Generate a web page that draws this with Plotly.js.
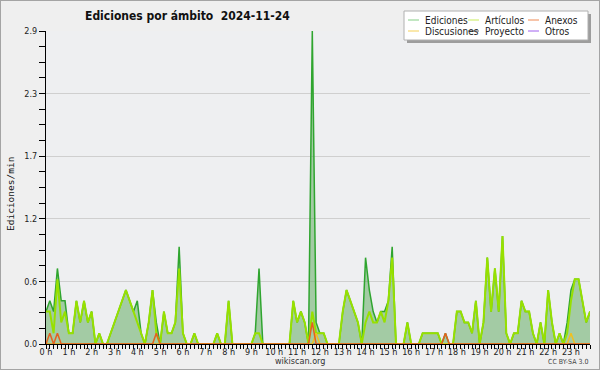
<!DOCTYPE html>
<html><head><meta charset="utf-8">
<script src="https://cdn.plot.ly/plotly-3.0.1.min.js"></script>
<style>
html,body{margin:0;padding:0;background:#efefef;}
#chart{width:600px;height:370px;}
#frame{position:absolute;left:0;top:0;width:600px;height:370px;box-sizing:border-box;border:1px solid #a4a4a4;pointer-events:none;}
</style></head><body>
<div id="chart"></div><div id="frame"></div>
<script>
// ---- data (edits per minute, 10-minute bins, 2024-11-24) ----
const hourTicks = [0,1,2,3,4,5,6,7,8,9,10,11,12,13,14,15,16,17,18,19,20,21,22,23];
const hourLabels = ["0 h","1 h","2 h","3 h","4 h","5 h","6 h","7 h","8 h","9 h","10 h","11 h","12 h","13 h","14 h","15 h","16 h","17 h","18 h","19 h","20 h","21 h","22 h","23 h"];
const yTickVals = [0, 0.58, 1.16, 1.74, 2.32, 2.9];
const yTickText = ["0.0","0.6","1.2","1.7","2.3","2.9"];

const ediciones = [
 0.3,0.4,0.3,0.7,0.4,0.4,0.1,0.1,0.4,0.2,0.4,0.2,
 0.3,0,0.1,0,0,0.1,0.2,0.3,0.4,0.5,0.4,0.3,
 0.4,0.1,0,0.2,0.5,0.2,0,0.3,0.1,0.1,0.2,0.9,
 0.1,0,0,0.1,0,0,0,0,0,0.1,0,0,
 0.4,0,0,0,0,0,0,0.1,0.7,0,0,0,
 0,0,0,0,0,0.4,0.2,0.3,0.2,0,2.9,0.2,
 0.1,0.1,0,0,0,0,0.3,0.5,0.4,0.3,0.2,0,
 0.8,0.5,0.3,0.2,0.3,0.3,0.4,0.9,0,0,0,0.2,
 0,0,0,0.1,0.1,0.1,0.1,0.1,0,0.1,0,0,
 0.3,0.3,0.2,0.2,0.1,0.4,0,0.2,0.8,0.3,0.7,0.3,
 1.0,0.1,0,0.1,0.1,0.4,0.3,0.3,0.1,0,0.2,0,
 0.5,0.2,0,0.1,0,0.2,0.5,0.6,0.6,0.4,0.2,0.3
];
const articulos = [
 0.3,0.3,0.1,0.6,0.2,0.3,0.1,0.1,0.4,0.2,0.4,0.2,
 0.3,0,0.1,0,0,0.1,0.2,0.3,0.4,0.5,0.4,0.3,
 0.2,0.1,0,0.2,0.5,0.1,0,0.3,0.1,0.1,0.2,0.7,
 0.1,0,0,0.1,0,0,0,0,0,0.1,0,0,
 0.4,0,0,0,0,0,0,0.1,0.1,0,0,0,
 0,0,0,0,0,0.4,0.2,0.3,0.2,0,0.3,0.1,
 0.1,0.1,0,0,0,0,0.3,0.5,0.4,0.3,0.2,0,
 0.2,0.3,0.2,0.2,0.3,0.2,0.4,0.8,0,0,0,0.2,
 0,0,0,0.1,0.1,0.1,0.1,0.1,0,0,0,0,
 0.3,0.3,0.2,0.2,0.1,0.4,0,0.2,0.8,0.3,0.7,0.3,
 1.0,0.1,0,0.1,0.1,0.4,0.3,0.3,0.1,0,0.2,0,
 0.5,0.2,0,0.1,0,0.1,0.4,0.6,0.6,0.4,0.2,0.3
];
const anexos = [
 0,0.1,0,0.1,0,0,0,0,0,0,0,0,
 0,0,0,0,0,0,0,0,0,0,0,0,
 0,0,0,0,0,0.1,0,0,0,0,0,0,
 0,0,0,0,0,0,0,0,0,0,0,0,
 0,0,0,0,0,0,0,0,0,0,0,0,
 0,0,0,0,0,0,0,0,0,0,0.2,0,
 0,0,0,0,0,0,0,0,0,0,0,0,
 0,0,0,0,0,0,0,0,0,0,0,0,
 0,0,0,0,0,0,0,0,0,0.1,0,0,
 0,0,0,0,0,0,0,0,0,0,0,0,
 0,0,0,0,0,0,0,0,0,0,0,0,
 0,0,0,0,0,0,0,0,0,0,0,0
];
const discusiones = [
 0,0,0,0,0,0,0,0,0,0,0,0,
 0,0,0,0,0,0,0,0,0,0,0,0,
 0,0,0,0,0,0,0,0,0,0,0,0,
 0,0,0,0,0,0,0,0,0,0,0,0,
 0,0,0,0,0,0,0,0,0,0,0,0,
 0,0,0,0,0,0,0,0,0,0,0,0.1,
 0,0,0,0,0,0,0,0,0,0,0,0,
 0,0,0,0,0,0,0,0,0,0,0,0,
 0,0,0,0,0,0,0,0,0,0,0,0,
 0,0,0,0,0,0,0,0,0,0,0,0,
 0,0,0,0,0,0,0,0,0,0,0,0,
 0,0,0,0,0,0,0.1,0,0,0,0,0
];
const proyecto = [
 0,0,0,0,0,0,0,0,0,0,0,0, 0,0,0,0,0,0,0,0,0,0,0,0,
 0,0,0,0,0,0,0,0,0,0,0,0, 0,0,0,0,0,0,0,0,0,0,0,0,
 0,0,0,0,0,0,0,0,0,0,0,0, 0,0,0,0,0,0,0,0,0,0,0,0,
 0,0,0,0,0,0,0,0,0,0,0,0, 0,0,0,0,0,0,0,0,0,0,0,0,
 0,0,0,0,0,0,0,0,0,0,0,0, 0,0,0,0,0,0,0,0,0,0,0,0,
 0,0,0,0,0,0,0,0,0,0,0,0, 0,0,0,0,0,0,0,0,0,0,0,0
];
const otros = [
 0,0,0,0,0,0,0,0,0,0,0,0, 0,0,0,0,0,0,0,0,0,0,0,0,
 0,0,0,0,0,0,0,0,0,0,0,0, 0,0,0,0,0,0,0,0,0,0,0,0,
 0,0,0,0,0,0,0,0,0,0,0,0, 0,0,0,0,0,0,0,0,0,0,0,0,
 0,0,0,0,0,0,0,0,0,0,0,0, 0,0,0,0,0,0,0,0,0,0,0,0,
 0,0,0,0,0,0,0,0,0,0,0,0, 0,0,0,0,0,0,0,0,0,0,0,0,
 0,0,0,0,0,0,0,0,0,0,0,0, 0,0,0,0,0,0,0,0,0,0,0,0
];
const seriesNames = ["Ediciones","Artículos","Anexos","Discusiones","Proyecto","Otros"];
const legendColors = ["#86cf86","#c8ec5a","#ef8a55","#f5d158","#666666","#a060ee"];

// time of each 10-minute bin, in hours
const binHours = ediciones.map((_, i) => i / 6);

// ---- layout helpers (pixel -> paper) ----
const W = 600, H = 370, ML = 46, MR = 10, MT = 31, MB = 26;
const PW = W - ML - MR, PH = H - MT - MB;
const px = x => (x - ML) / PW;
const py = y => (H - MB - y) / PH;

const FONT = "DejaVu Sans Condensed, DejaVu Sans, sans-serif";

const traces = [
  {x: binHours, y: proyecto, name: seriesNames[4], mode: "lines", line: {color: "#555555", width: 1}},
  {x: binHours, y: otros, name: seriesNames[5], mode: "lines", line: {color: "#9b3de6", width: 1}},
  {x: binHours, y: ediciones, name: seriesNames[0], mode: "lines", fill: "tozeroy",
   fillcolor: "rgba(70,160,70,0.45)", line: {color: "#2fa52f", width: 1.5}},
  {x: binHours, y: articulos, name: seriesNames[1], mode: "lines", line: {color: "#97e000", width: 2}},
  {x: binHours, y: discusiones, name: seriesNames[3], mode: "lines", line: {color: "#f0c020", width: 1.5}},
  {x: binHours, y: anexos, name: seriesNames[2], mode: "lines", line: {color: "#e5601f", width: 1.5}}
];

// manual legend (3 columns x 2 rows)
const legCols = [408, 468, 528];
const legRows = [20, 31];
const legOrder = [[0, 3], [1, 4], [2, 5]]; // column -> series index per row
const shapes = [
  {type: "rect", xref: "paper", yref: "paper", x0: px(407), x1: px(591), y0: py(43), y1: py(14),
   fillcolor: "#9d9d9d", line: {width: 0}},
  {type: "rect", xref: "paper", yref: "paper", x0: px(404), x1: px(588), y0: py(40), y1: py(11),
   fillcolor: "#ffffff", line: {color: "#b0b0b0", width: 1}}
];
const annotations = [];
legOrder.forEach((col, c) => {
  col.forEach((s, r) => {
    shapes.push({type: "line", xref: "paper", yref: "paper",
      x0: px(legCols[c]), x1: px(legCols[c] + 11), y0: py(legRows[r]), y1: py(legRows[r]),
      line: {color: legendColors[s], width: 1}});
    annotations.push({xref: "paper", yref: "paper", x: px(legCols[c] + 15), y: py(legRows[r]),
      xanchor: "left", yanchor: "middle", showarrow: false, text: seriesNames[s],
      font: {family: FONT, size: 10, color: "#222"}});
  });
});
annotations.push({xref: "paper", yref: "paper", x: px(300), y: py(361.5), xanchor: "center", yanchor: "middle",
  showarrow: false, text: "wikiscan.org", font: {family: FONT, size: 9, color: "#333"}});
annotations.push({xref: "paper", yref: "paper", x: px(590), y: py(362), xanchor: "right", yanchor: "middle",
  showarrow: false, text: "CC BY-SA 3.0", font: {family: FONT, size: 7, color: "#444"}});
annotations.push({xref: "paper", yref: "paper", x: px(10), y: py(194), xanchor: "center", yanchor: "middle",
  textangle: -90, showarrow: false, text: "Ediciones/min",
  font: {family: "DejaVu Sans Mono, monospace", size: 9.5, color: "#111"}});

const layout = {
  width: W, height: H,
  paper_bgcolor: "#efefef", plot_bgcolor: "#eeeff1",
  margin: {l: ML, r: MR, t: MT, b: MB, pad: 0},
  showlegend: false,
  font: {family: FONT, size: 9, color: "#222"},
  title: {text: "Ediciones por ámbito\u00a0\u00a02024-11-24", xref: "container", yref: "container",
    x: 85 / W, xanchor: "left", y: 1 - 16 / H, yanchor: "middle",
    font: {family: FONT, size: 12, weight: "bold", color: "#111"}},
  xaxis: {range: [0, binHours[binHours.length - 1]], tickmode: "array", tickvals: hourTicks, ticktext: hourLabels,
    ticks: "outside", ticklen: 4, tickcolor: "#000", tickwidth: 1, showline: true, linecolor: "#000", linewidth: 1,
    showgrid: false, zeroline: false, ticklabelstandoff: -5, tickfont: {family: FONT, size: 9, color: "#222"},
    minor: {dtick: 1 / 6, tick0: 0, ticks: "outside", ticklen: 4, tickcolor: "#000", tickwidth: 1, showgrid: false}},
  yaxis: {range: [0, 2.9], tickmode: "array", tickvals: yTickVals, ticktext: yTickText,
    ticks: "outside", ticklen: 6, tickcolor: "#000", tickwidth: 1, showline: true, linecolor: "#000", linewidth: 1,
    showgrid: true, gridcolor: "#cfcfcf", gridwidth: 1, zeroline: false,
    tickfont: {family: FONT, size: 9, color: "#222"},
    minor: {dtick: 0.145, tick0: 0, ticks: "outside", ticklen: 6, tickcolor: "#000", tickwidth: 1, showgrid: false}},
  shapes: shapes,
  annotations: annotations
};

Plotly.newPlot("chart", traces, layout, {staticPlot: true, displayModeBar: false});
</script>
</body></html>
